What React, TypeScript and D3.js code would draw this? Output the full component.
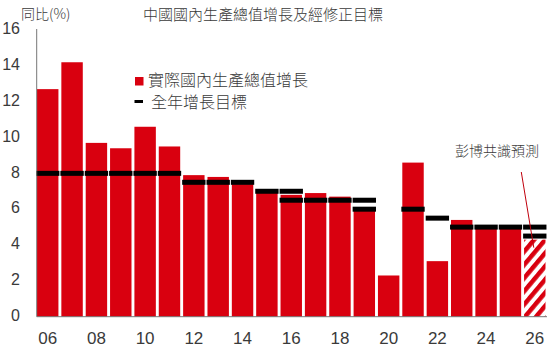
import React from 'react';
import * as d3 from 'd3';

// 年份 (2006-2026)
const years = d3.range(2006, 2027).map(String);
// 實際國內生產總值增長 (%)
const growth = [12.7, 14.2, 9.7, 9.4, 10.6, 9.5, 7.9, 7.8, 7.4, 7.0, 6.8, 6.9, 6.7, 6.0, 2.3, 8.6, 3.1, 5.4, 5.0, 5.0, 4.3];
// 全年增長目標 (上限 / 下限)
const targetHigh: (number | null)[] = [8, 8, 8, 8, 8, 8, 7.5, 7.5, 7.5, 7, 7, 6.5, 6.5, 6.5, null, 6, 5.5, 5, 5, 5, 5];
const targetLow: (number | null)[] = [null, null, null, null, null, null, null, null, null, null, 6.5, null, null, 6, null, null, null, null, null, null, 4.5];
const forecastYear = '2026';
const yTicks = [0, 2, 4, 6, 8, 10, 12, 14, 16];

const W = 553;
const H = 351;
const RED = '#d9000f';
const TEXT = '#3a3a3a';
const CJK = '"Noto Sans CJK TC", "Noto Sans CJK SC", sans-serif';
const NUM = '"Liberation Sans", Arial, sans-serif';

export default function App() {
  const x = d3.scaleBand<string>().domain(years).range([37, 545.5]).paddingInner(0.12).paddingOuter(0);
  const y = d3.scaleLinear().domain([0, 16]).range([316.7, 30]);
  const step = x.step();
  const bw = x.bandwidth();
  const cx = (yr: string) => (x(yr) ?? 0) + bw / 2;

  const targets: { yr: string; v: number }[] = [];
  years.forEach((yr, i) => {
    if (targetHigh[i] != null) targets.push({ yr, v: targetHigh[i] as number });
    if (targetLow[i] != null) targets.push({ yr, v: targetLow[i] as number });
  });

  const fc = cx(forecastYear);

  return (
    <svg width={W} height={H} style={{ position: 'absolute', left: 0, top: 0, background: '#fff' }}>
      <defs>
        <pattern id="hatch" patternUnits="userSpaceOnUse" width={8.5} height={8.5} patternTransform="rotate(40)">
          <rect width={8.5} height={8.5} fill="#fff" />
          <rect width={4.5} height={8.5} fill={RED} />
        </pattern>
      </defs>

      {/* 標題 */}
      <text x={143} y={20} fontFamily={CJK} fontWeight={300} fontSize={15} fill={TEXT}>
        中國國內生產總值增長及經修正目標
      </text>
      <text x={21} y={19} fontFamily={CJK} fontWeight={300} fontSize={14} fill={TEXT}>
        同比(%)
      </text>

      {/* 柱 */}
      {years.map((yr, i) => (
        <rect
          key={yr}
          x={x(yr)}
          y={y(growth[i])}
          width={bw}
          height={y(0) - y(growth[i])}
          fill={yr === forecastYear ? 'url(#hatch)' : RED}
        />
      ))}

      {/* 目標 */}
      {targets.map((t, i) => (
        <rect key={i} x={cx(t.yr) - (step - 1) / 2} y={y(t.v) - 2.5} width={step - 1} height={5} fill="#000" />
      ))}

      {/* 軸 */}
      <line x1={36.7} x2={36.7} y1={29} y2={y(0)} stroke="#777" strokeWidth={1} />
      <line x1={36.7} x2={547} y1={y(0)} y2={y(0)} stroke="#777" strokeWidth={1} />

      {yTicks.map(t => (
        <text key={t} x={20} y={y(t)} textAnchor="end" dominantBaseline="middle" fontFamily={NUM} fontSize={16} fill={TEXT}>
          {t}
        </text>
      ))}
      {years.filter((_, i) => i % 2 === 0).map(yr => (
        <text key={yr} x={cx(yr)} y={340} textAnchor="middle" dominantBaseline="middle" fontFamily={NUM} fontSize={17} fill={TEXT}>
          {yr.slice(2)}
        </text>
      ))}

      {/* 圖例 */}
      <rect x={135} y={77} width={8.5} height={8.5} fill={RED} />
      <text x={148} y={81.5} dominantBaseline="middle" fontFamily={CJK} fontWeight={300} fontSize={16} fill={TEXT}>
        實際國內生產總值增長
      </text>
      <rect x={134.5} y={100} width={8.5} height={3} fill="#000" />
      <text x={151} y={103.5} dominantBaseline="middle" fontFamily={CJK} fontWeight={300} fontSize={16} fill={TEXT}>
        全年增長目標
      </text>

      {/* 註解 */}
      <text x={497} y={152} textAnchor="middle" dominantBaseline="middle" fontFamily={CJK} fontWeight={300} fontSize={14} fill={TEXT}>
        彭博共識預測
      </text>
      <line x1={fc - 13.5} y1={172} x2={fc - 1} y2={y(growth[growth.length - 1]) + 8} stroke="#c0000c" strokeWidth={1} />
    </svg>
  );
}
